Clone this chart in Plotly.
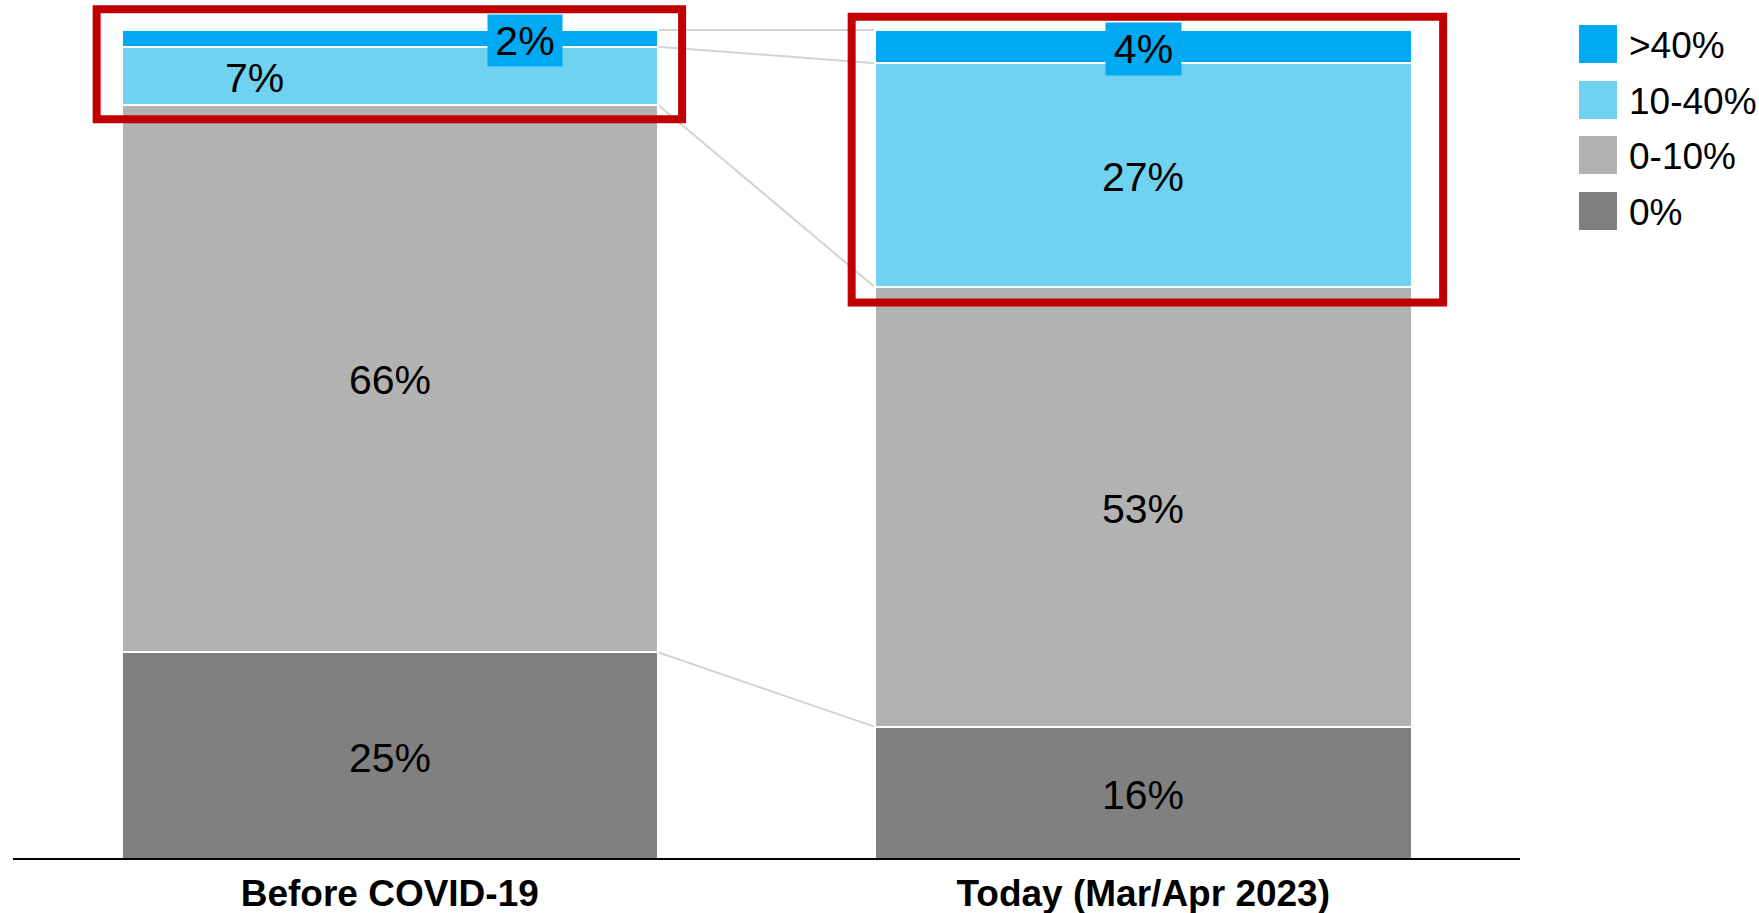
import plotly.graph_objects as go
import numpy as np

# Share of working time, by band, before the pandemic and today
categories = ["Before COVID-19", "Today (Mar/Apr 2023)"]
series_names = ["0%", "0-10%", "10-40%", ">40%"]          # stacked bottom to top
before_values = [25, 66, 7, 2]
today_values = [16, 53, 27, 4]
value_labels = [["25%", "66%", "7%", "2%"], ["16%", "53%", "27%", "4%"]]

colors = ["#808080", "#B2B2B2", "#70D2F1", "#00A9F1"]
FONT = "Liberation Sans, Arial, sans-serif"

values = np.array([before_values, today_values], dtype=float)  # [category, series]
xpos = np.arange(len(categories))
BAR_W = 0.712

fig = go.Figure()
for j, name in enumerate(series_names):
    fig.add_trace(go.Bar(
        x=xpos, y=values[:, j], name=name, width=BAR_W,
        marker=dict(color=colors[j], line=dict(color="white", width=2)),
        hoverinfo="skip", showlegend=False,
    ))

# Segment value labels
cum = np.cumsum(values, axis=1)
label_style = {
    (0, 3): dict(xshift=135, bgcolor=colors[3], width=74, height=51),
    (0, 2): dict(xshift=-135),
    (1, 3): dict(bgcolor=colors[3], width=75, height=52),
}
annotations = []
for i in range(len(categories)):
    for j in range(len(series_names)):
        mid = cum[i, j] - values[i, j] / 2
        kw = dict(x=xpos[i], y=mid, xref="x", yref="y", text=value_labels[i][j],
                  showarrow=False, font=dict(family=FONT, size=41, color="black"),
                  borderpad=0, yshift=-2)
        kw.update(label_style.get((i, j), {}))
        annotations.append(kw)

shapes = []
# Connectors between the segment boundaries of the two bars
x_left = xpos[0] + BAR_W / 2
x_right = xpos[1] - BAR_W / 2
for j in range(len(series_names)):
    shapes.append(dict(type="line", xref="x", yref="y",
                       x0=x_left, x1=x_right, y0=cum[0, j], y1=cum[1, j],
                       line=dict(color="#D3D3D3", width=2), layer="below"))

# Highlight boxes around the upper bands
shapes.append(dict(type="rect", xref="x", yref="y", x0=-0.389, x1=0.388,
                   y0=89.25, y1=102.5, line=dict(color="#C00000", width=8)))
shapes.append(dict(type="rect", xref="x", yref="y", x0=0.613, x1=1.398,
                   y0=67.15, y1=101.6, line=dict(color="#C00000", width=8)))

# Legend drawn as large swatches (top entry = top of stack)
PLOT_L, PLOT_W, PLOT_H = 13, 1507, 858
def px_x(p):
    return (p - PLOT_L) / PLOT_W
def px_y(p):
    return (PLOT_H - p) / PLOT_H

row_tops = [25, 81, 136, 192]
for k, j in enumerate(reversed(range(len(series_names)))):
    top = row_tops[k]
    shapes.append(dict(type="rect", xref="paper", yref="paper",
                       x0=px_x(1579), x1=px_x(1617), y0=px_y(top + 38), y1=px_y(top),
                       fillcolor=colors[j], line=dict(width=0)))
    annotations.append(dict(x=px_x(1627), y=px_y(top + 21), xref="paper", yref="paper",
                            text=series_names[j], showarrow=False, xanchor="left",
                            yanchor="middle",
                            font=dict(family=FONT, size=37, color="black")))

fig.update_layout(
    barmode="stack",
    width=1759, height=913,
    margin=dict(l=13, r=239, t=0, b=55, autoexpand=False),
    paper_bgcolor="white", plot_bgcolor="white",
    showlegend=False,
    shapes=shapes, annotations=annotations,
    xaxis=dict(range=[-0.5, 1.5], tickvals=list(xpos), ticktext=categories,
               tickfont=dict(family=FONT, size=37, color="black", weight="bold"),
               ticklabelstandoff=2, automargin=False,
               showline=True, linecolor="black", linewidth=2, ticks="",
               showgrid=False, zeroline=False, fixedrange=True),
    yaxis=dict(range=[0.2, 103.62], showticklabels=False, showgrid=False,
               zeroline=False, showline=False, fixedrange=True, automargin=False),
)

fig.write_html("out.html")
